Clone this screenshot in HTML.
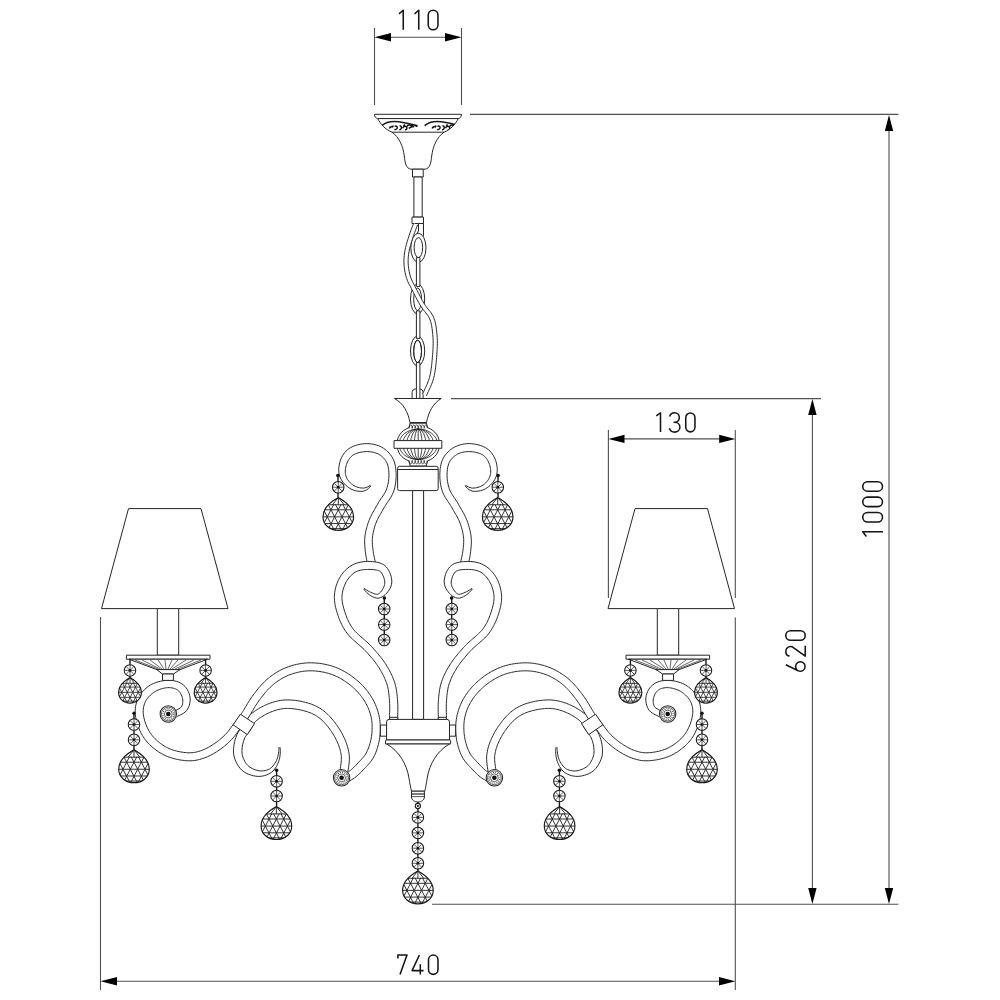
<!DOCTYPE html>
<html><head><meta charset="utf-8"><style>
html,body{margin:0;padding:0;background:#fff;width:1000px;height:1000px;overflow:hidden}
svg{display:block}
.l{fill:none;stroke:#262626;stroke-width:1}
.ch{fill:none;stroke:#1a1a1a;stroke-width:1.4}
.d{fill:none;stroke:#505050;stroke-width:1.1}
.ah{fill:#000;stroke:none}
.w{fill:#fff;stroke:#262626;stroke-width:1}
.dg path{fill:none;stroke:#151515;stroke-width:1.55;stroke-linecap:butt;stroke-linejoin:round}
</style></head><body>
<svg width="1000" height="1000" viewBox="0 0 1000 1000">
<defs>
  <clipPath id="cbig"><path d="M0,-19.30C7.65,-15.05 15.30,-9.49 15.30,0C15.30,8.16 8.57,13.60 0,13.60C-8.57,13.60 -15.30,8.16 -15.30,0C-15.30,-9.49 -7.65,-15.05 0,-19.30Z"/></clipPath>
  <g id="big">
    <path fill="#fff" d="M0,-19.30C7.65,-15.05 15.30,-9.49 15.30,0C15.30,8.16 8.57,13.60 0,13.60C-8.57,13.60 -15.30,8.16 -15.30,0C-15.30,-9.49 -7.65,-15.05 0,-19.30Z"/>
    <path clip-path="url(#cbig)" fill="none" stroke="#1e1e1e" stroke-width="0.9" d="M-16.30,-11.93H16.30M-16.30,-6.89H16.30M-16.30,0.15H16.30M-16.30,6.89H16.30M-16.30,11.93H16.30M-46.96,-12.43L-32.85,14.60M-33.82,-12.43L-47.93,14.60M-39.62,-12.43L-25.51,14.60M-26.48,-12.43L-40.59,14.60M-32.27,-12.43L-18.17,14.60M-19.14,-12.43L-33.24,14.60M-24.93,-12.43L-10.82,14.60M-11.79,-12.43L-25.90,14.60M-17.58,-12.43L-3.48,14.60M-4.45,-12.43L-18.55,14.60M-10.24,-12.43L3.87,14.60M2.90,-12.43L-11.21,14.60M-2.90,-12.43L11.21,14.60M10.24,-12.43L-3.87,14.60M4.45,-12.43L18.55,14.60M17.58,-12.43L3.48,14.60M11.79,-12.43L25.90,14.60M24.93,-12.43L10.82,14.60M19.14,-12.43L33.24,14.60M32.27,-12.43L18.17,14.60M26.48,-12.43L40.59,14.60M39.62,-12.43L25.51,14.60M33.82,-12.43L47.93,14.60M46.96,-12.43L32.85,14.60M0,-19.30L-17.63,-11.93M0,-19.30L-11.75,-11.93M0,-19.30L-5.88,-11.93M0,-19.30L0.00,-11.93M0,-19.30L5.88,-11.93M0,-19.30L11.75,-11.93M0,-19.30L17.63,-11.93"/>
    <path fill="none" stroke="#1a1a1a" stroke-width="1.15" d="M0,-19.30C7.65,-15.05 15.30,-9.49 15.30,0C15.30,8.16 8.57,13.60 0,13.60C-8.57,13.60 -15.30,8.16 -15.30,0C-15.30,-9.49 -7.65,-15.05 0,-19.30Z"/>
  </g>
  <clipPath id="cmed"><path d="M0,-14.70C5.70,-11.47 11.40,-7.07 11.40,0C11.40,6.54 6.38,10.90 0,10.90C-6.38,10.90 -11.40,6.54 -11.40,0C-11.40,-7.07 -5.70,-11.47 0,-14.70Z"/></clipPath>
  <g id="med">
    <path fill="#fff" d="M0,-14.70C5.70,-11.47 11.40,-7.07 11.40,0C11.40,6.54 6.38,10.90 0,10.90C-6.38,10.90 -11.40,6.54 -11.40,0C-11.40,-7.07 -5.70,-11.47 0,-14.70Z"/>
    <path clip-path="url(#cmed)" fill="none" stroke="#1e1e1e" stroke-width="0.8" d="M-12.40,-8.89H12.40M-12.40,-5.13H12.40M-12.40,0.11H12.40M-12.40,5.13H12.40M-12.40,8.89H12.40M-35.06,-9.39L-23.95,11.90M-25.14,-9.39L-36.25,11.90M-29.58,-9.39L-18.47,11.90M-19.66,-9.39L-30.77,11.90M-24.11,-9.39L-13.00,11.90M-14.19,-9.39L-25.30,11.90M-18.64,-9.39L-7.53,11.90M-8.72,-9.39L-19.83,11.90M-13.17,-9.39L-2.06,11.90M-3.25,-9.39L-14.36,11.90M-7.70,-9.39L3.41,11.90M2.22,-9.39L-8.89,11.90M-2.22,-9.39L8.89,11.90M7.70,-9.39L-3.41,11.90M3.25,-9.39L14.36,11.90M13.17,-9.39L2.06,11.90M8.72,-9.39L19.83,11.90M18.64,-9.39L7.53,11.90M14.19,-9.39L25.30,11.90M24.11,-9.39L13.00,11.90M19.66,-9.39L30.77,11.90M29.58,-9.39L18.47,11.90M25.14,-9.39L36.25,11.90M35.06,-9.39L23.95,11.90M0,-14.70L-13.13,-8.89M0,-14.70L-8.76,-8.89M0,-14.70L-4.38,-8.89M0,-14.70L0.00,-8.89M0,-14.70L4.38,-8.89M0,-14.70L8.76,-8.89M0,-14.70L13.13,-8.89"/>
    <path fill="none" stroke="#1a1a1a" stroke-width="1.15" d="M0,-14.70C5.70,-11.47 11.40,-7.07 11.40,0C11.40,6.54 6.38,10.90 0,10.90C-6.38,10.90 -11.40,6.54 -11.40,0C-11.40,-7.07 -5.70,-11.47 0,-14.70Z"/>
  </g>

  <g id="bead">
    <circle r="5.75" fill="#fff" stroke="#1a1a1a" stroke-width="1.05"/>
    <path class="l" style="stroke-width:0.75" d="M0,-5.4V5.4M-5.4,0H5.4M-3.8,-3.8L3.8,3.8M3.8,-3.8L-3.8,3.8"/>
    <circle r="1.3" fill="#111"/>
  </g>
  <g id="ros">
    <circle r="8.2" class="w" style="stroke-width:1.05"/>
    <circle r="6.9" class="l" style="stroke-width:0.7"/>
    <circle r="5.4" class="l" style="stroke-width:1.1;stroke-dasharray:0.8 1.3"/>
    <circle r="3.9" class="l" style="stroke-width:0.7"/>
    <circle r="2.3" fill="#111"/>
  </g>
</defs>
<!-- ============ DIMENSIONS ============ -->
<g id="dims">
  <!-- 110 -->
  <path class="d" d="M374.5,28V105M461.5,28V105M390,37.2H446"/>
  <path class="ah" d="M374.5,37.2L391,33L391,41.4Z M461.5,37.2L445,33L445,41.4Z"/>
  <!-- 130 -->
  <path class="d" d="M608.4,430V598M735.3,430V598M735.3,617.5V990M624,438.9H720"/>
  <path class="ah" d="M608.4,438.9L624.5,434.7L624.5,443.1Z M735.3,438.9L719.2,434.7L719.2,443.1Z"/>
  <!-- 740 -->
  <path class="d" d="M100.5,617V990M116,981.2H720"/>
  <path class="ah" d="M100.5,981.2L117,977L117,985.4Z M735.3,981.2L719,977L719,985.4Z"/>
  <!-- 1000 -->
  <path class="d" d="M470,114.4H898.4M432,904.3H898.4M889,130V889"/>
  <path class="ah" d="M889,115L884.8,131L893.2,131Z M889,904L884.8,888L893.2,888Z"/>
  <!-- 620 -->
  <path class="d" d="M451,398.6H821M812.4,414V889"/>
  <path class="ah" d="M812.4,399L808.2,415L816.6,415Z M812.4,904L808.2,888L816.6,888Z"/>

<g class="dg">
  <!-- 110 -->
  <path d="M399,13.9L403.25,10.25V29.75"/>
  <path d="M414.5,13.9L418.75,10.25V29.75"/>
  <path d="M428.25,15.1A4.85,4.85 0 0 1 437.95,15.1V24.9A4.85,4.85 0 0 1 428.25,24.9Z"/>
  <!-- 130 -->
  <path d="M656.25,415.9L660.5,412.75V432"/>
  <path d="M669.6,416.4C670.4,414.1 672.3,412.8 674.6,412.8C677.3,412.8 679.3,414.8 679.3,417.4C679.3,420.1 677.3,422.3 674.7,422.3H673.6M674.7,422.3C677.7,422.3 679.9,424.6 679.9,427.3C679.9,430.1 677.6,432.1 674.6,432.1C672,432.1 670,430.5 669.4,428.1"/>
  <path d="M685.75,417.6A4.6,4.6 0 0 1 694.95,417.6V427.3A4.6,4.6 0 0 1 685.75,427.3Z"/>
  <!-- 740 -->
  <path d="M397.9,958.4V955H407L400,974.4"/>
  <path d="M419.4,955L412.1,970.6H423.6M420.3,964.2V974.4"/>
  <path d="M428.5,959.8A4.75,4.75 0 0 1 438,959.8V969.6A4.75,4.75 0 0 1 428.5,969.6Z"/>
  <!-- 620 rotated -->
  <g transform="translate(785,672) rotate(-90)">
    <path d="M7.3,0.8L1.2,13.2M5.5,10.6A4.75,4.75 0 1 1 5.49,10.6Z"/>
    <path d="M15.9,4.6C16.2,2.3 18.1,0.8 20.6,0.8C23.3,0.8 25.5,2.9 25.5,5.4C25.5,6.7 25,7.7 24.2,8.7L15.9,20.25H26.3"/>
    <path d="M31.75,5.55A4.75,4.75 0 0 1 41.25,5.55V15.45A4.75,4.75 0 0 1 31.75,15.45Z"/>
  </g>
  <!-- 1000 rotated -->
  <g transform="translate(862,537) rotate(-90)">
    <path d="M0.6,4.4L5.3,0.75V21"/>
    <path d="M15,5.5A4.75,4.75 0 0 1 24.5,5.5V15.75A4.75,4.75 0 0 1 15,15.75Z"/>
    <path d="M30.4,5.5A4.75,4.75 0 0 1 39.9,5.5V15.75A4.75,4.75 0 0 1 30.4,15.75Z"/>
    <path d="M45.8,5.5A4.75,4.75 0 0 1 55.3,5.5V15.75A4.75,4.75 0 0 1 45.8,15.75Z"/>
  </g>
</g>
</g>

<g id="top">
<path class="w" d="M374.5,114.3H461.5C461.5,116.6 460.2,118.4 458.3,118.6H377.7C375.8,118.4 374.5,116.6 374.5,114.3Z"/>
<path class="w" d="M377.7,118.6C380.2,123.5 385,129.5 392,132.2C399,137 403,146 404.3,156C405,163 406,168.6 411,169.2H425C430,168.6 431,163 431.7,156C433,146 437,137 444,132.2C451,129.5 455.8,123.5 458.3,118.6Z"/>
<path class="l" d="M392,132.2H444"/>
<clipPath id="bandclip"><path d="M377.7,118.6C380.2,123.5 385,129.5 392,132.2H444C451,129.5 455.8,123.5 458.3,118.6Z"/></clipPath>
<g clip-path="url(#bandclip)"><g id="orn"><path fill="none" stroke="#1a1a1a" stroke-width="1.5" d="M381.8,125.6C385.5,122.3 392,120.8 399,121.8C405,122.6 411,124.3 417.6,125.8"/><path fill="none" stroke="#111" stroke-width="1.45" d="M389.3,128.6C390,126.6 392,126.2 393.2,127.3M391.6,126.7L393.6,125.8M394.6,126.4C396.3,125.6 397.6,126.6 397.2,128.1C396.8,129.4 395.2,129.9 394.4,129.3M399.2,129.9C400.8,129.6 401.8,128.3 401.3,126.8C401,125.9 400.2,125.7 399.6,126.2M402.6,128.2C403.6,125.9 406,125.6 406.8,127.4C407.3,128.9 406.2,130 404.9,129.6M406.9,126.3C408.6,124.4 410.8,124.8 411.6,126.6M408.7,128.3C410.4,127 412.4,126.7 414.3,126.6M411.6,124.3L413.3,126.4M414.6,125.2L417.2,126.6M403.4,125.8L404.8,124.5"/></g><use href="#orn" x="42.8"/></g>
<path class="w" d="M412.5,169.2H423.2V177H412.5Z"/>
<path class="w" d="M413.9,177H422.2V217.1H413.9Z"/>
<path class="w" d="M412,217.1H423.5V223.5H412Z"/>
<path class="w" d="M418.5,223.5H423.5V235.4C423.5,237.5 422,238.6 420,238.6H416.5C415,238.6 414.8,237 415.8,235.6L418.5,231Z"/>
<g class="w"><ellipse cx="418.4" cy="247.8" rx="7.6" ry="14.5"/><ellipse cx="417.6" cy="299" rx="7.1" ry="14.9"/><ellipse cx="417.6" cy="351" rx="7.1" ry="14.9"/></g>
<g class="l"><ellipse cx="418.4" cy="247.6" rx="4.25" ry="10"/><ellipse cx="417.6" cy="299.2" rx="3.9" ry="11.2"/><ellipse cx="417.6" cy="351.3" rx="3.9" ry="11.2"/></g>
<path class="w" d="M416.4,257.6H419.9V286.4H416.4Z"/>
<path class="w" d="M416.4,310.9H419.9V338.4H416.4Z"/>
<path class="w" d="M412.1,398.4V392.5C412.1,390.5 413.6,389 415.6,389H419.6C421.6,389 423.1,390.5 423.1,392.5V398.4"/>
<path class="w" d="M416.4,362.6H419.9V398.4H416.4Z"/>
<ellipse class="l" cx="417.6" cy="351.3" rx="3.9" ry="11.2"/>
<path fill="#fff" stroke="none" d="M413.63,223.27L413.07,224.79L412.50,226.30L411.92,227.81L411.34,229.33L410.77,230.87L410.20,232.43L409.64,234.02L409.10,235.65L408.65,237.07L408.18,238.51L407.71,239.99L407.24,241.49L406.78,243.01L406.34,244.53L405.93,246.07L405.55,247.60L405.22,249.13L404.93,250.64L404.66,252.33L404.42,254.01L404.22,255.68L404.08,257.35L403.98,259.03L403.93,260.71L403.94,262.41L404.00,264.12L404.12,265.73L404.29,267.37L404.50,269.02L404.76,270.67L405.06,272.32L405.41,273.95L405.80,275.55L406.23,277.13L406.71,278.66L407.26,280.21L407.87,281.68L408.52,283.09L409.21,284.45L409.92,285.80L410.65,287.15L411.38,288.52L412.13,289.96L412.77,291.22L413.44,292.53L414.13,293.90L414.85,295.29L415.58,296.71L416.33,298.15L417.09,299.59L417.86,301.02L418.64,302.44L419.43,303.83L420.22,305.19L421.02,306.52L421.95,307.93L422.92,309.27L423.91,310.53L424.90,311.74L425.85,312.92L426.77,314.07L427.62,315.22L428.39,316.38L429.08,317.57L429.67,318.83L430.15,320.05L430.58,321.35L430.96,322.70L431.30,324.09L431.60,325.53L431.86,327.00L432.09,328.49L432.30,330.01L432.47,331.55L432.63,333.09L432.78,334.63L432.91,336.17L433.01,337.63L433.09,339.09L433.13,340.56L433.16,342.05L433.15,343.55L433.13,345.05L433.08,346.57L433.02,348.09L432.94,349.63L432.85,351.17L432.74,352.72L432.63,354.27L432.51,355.83L432.38,357.38L432.25,358.94L432.11,360.53L431.96,362.12L431.80,363.71L431.63,365.30L431.44,366.89L431.23,368.47L431.00,370.04L430.75,371.58L430.47,373.10L430.17,374.59L429.84,376.04L429.48,377.44L429.05,378.89L428.58,380.31L428.07,381.70L427.52,383.08L426.94,384.45L426.33,385.82L425.71,387.19L425.07,388.56L424.44,389.94L423.80,391.34L423.17,392.76L422.57,394.18L426.43,395.82L427.02,394.43L427.63,393.06L428.25,391.69L428.89,390.32L429.53,388.94L430.16,387.54L430.79,386.12L431.40,384.68L431.99,383.20L432.55,381.69L433.06,380.14L433.52,378.56L433.92,377.03L434.27,375.47L434.59,373.90L434.89,372.30L435.15,370.68L435.39,369.06L435.61,367.42L435.80,365.78L435.98,364.15L436.15,362.52L436.30,360.90L436.44,359.30L436.57,357.72L436.69,356.17L436.82,354.59L436.93,353.01L437.04,351.44L437.13,349.86L437.22,348.29L437.28,346.72L437.33,345.15L437.35,343.58L437.36,342.02L437.33,340.47L437.28,338.91L437.20,337.37L437.09,335.83L436.96,334.26L436.81,332.68L436.65,331.09L436.46,329.49L436.25,327.90L436.01,326.31L435.72,324.73L435.40,323.17L435.02,321.63L434.59,320.11L434.10,318.63L433.53,317.17L432.80,315.63L431.96,314.17L431.05,312.81L430.10,311.52L429.13,310.29L428.15,309.09L427.20,307.92L426.27,306.74L425.40,305.54L424.58,304.28L423.83,303.05L423.07,301.74L422.31,300.39L421.55,299.01L420.79,297.61L420.05,296.19L419.31,294.78L418.58,293.37L417.87,291.99L417.18,290.63L416.52,289.32L415.87,288.04L415.10,286.56L414.34,285.16L413.62,283.82L412.94,282.53L412.30,281.26L411.71,279.99L411.18,278.70L410.69,277.34L410.27,275.95L409.87,274.50L409.51,273.01L409.18,271.50L408.90,269.96L408.66,268.42L408.46,266.88L408.30,265.37L408.20,263.88L408.13,262.31L408.13,260.76L408.17,259.21L408.26,257.67L408.40,256.11L408.59,254.55L408.81,252.96L409.07,251.36L409.33,249.97L409.64,248.56L410.00,247.12L410.39,245.66L410.81,244.19L411.26,242.72L411.71,241.25L412.18,239.80L412.64,238.36L413.10,236.95L413.62,235.38L414.16,233.84L414.71,232.32L415.27,230.81L415.85,229.30L416.42,227.79L417.00,226.27L417.57,224.73Z"/><path fill="none" stroke="#262626" stroke-width="1.0" stroke-linejoin="round" d="M413.63,223.27L413.07,224.79L412.50,226.30L411.92,227.81L411.34,229.33L410.77,230.87L410.20,232.43L409.64,234.02L409.10,235.65L408.65,237.07L408.18,238.51L407.71,239.99L407.24,241.49L406.78,243.01L406.34,244.53L405.93,246.07L405.55,247.60L405.22,249.13L404.93,250.64L404.66,252.33L404.42,254.01L404.22,255.68L404.08,257.35L403.98,259.03L403.93,260.71L403.94,262.41L404.00,264.12L404.12,265.73L404.29,267.37L404.50,269.02L404.76,270.67L405.06,272.32L405.41,273.95L405.80,275.55L406.23,277.13L406.71,278.66L407.26,280.21L407.87,281.68L408.52,283.09L409.21,284.45L409.92,285.80L410.65,287.15L411.38,288.52L412.13,289.96L412.77,291.22L413.44,292.53L414.13,293.90L414.85,295.29L415.58,296.71L416.33,298.15L417.09,299.59L417.86,301.02L418.64,302.44L419.43,303.83L420.22,305.19L421.02,306.52L421.95,307.93L422.92,309.27L423.91,310.53L424.90,311.74L425.85,312.92L426.77,314.07L427.62,315.22L428.39,316.38L429.08,317.57L429.67,318.83L430.15,320.05L430.58,321.35L430.96,322.70L431.30,324.09L431.60,325.53L431.86,327.00L432.09,328.49L432.30,330.01L432.47,331.55L432.63,333.09L432.78,334.63L432.91,336.17L433.01,337.63L433.09,339.09L433.13,340.56L433.16,342.05L433.15,343.55L433.13,345.05L433.08,346.57L433.02,348.09L432.94,349.63L432.85,351.17L432.74,352.72L432.63,354.27L432.51,355.83L432.38,357.38L432.25,358.94L432.11,360.53L431.96,362.12L431.80,363.71L431.63,365.30L431.44,366.89L431.23,368.47L431.00,370.04L430.75,371.58L430.47,373.10L430.17,374.59L429.84,376.04L429.48,377.44L429.05,378.89L428.58,380.31L428.07,381.70L427.52,383.08L426.94,384.45L426.33,385.82L425.71,387.19L425.07,388.56L424.44,389.94L423.80,391.34L423.17,392.76L422.57,394.18M417.57,224.73L417.00,226.27L416.42,227.79L415.85,229.30L415.27,230.81L414.71,232.32L414.16,233.84L413.62,235.38L413.10,236.95L412.64,238.36L412.18,239.80L411.71,241.25L411.26,242.72L410.81,244.19L410.39,245.66L410.00,247.12L409.64,248.56L409.33,249.97L409.07,251.36L408.81,252.96L408.59,254.55L408.40,256.11L408.26,257.67L408.17,259.21L408.13,260.76L408.13,262.31L408.20,263.88L408.30,265.37L408.46,266.88L408.66,268.42L408.90,269.96L409.18,271.50L409.51,273.01L409.87,274.50L410.27,275.95L410.69,277.34L411.18,278.70L411.71,279.99L412.30,281.26L412.94,282.53L413.62,283.82L414.34,285.16L415.10,286.56L415.87,288.04L416.52,289.32L417.18,290.63L417.87,291.99L418.58,293.37L419.31,294.78L420.05,296.19L420.79,297.61L421.55,299.01L422.31,300.39L423.07,301.74L423.83,303.05L424.58,304.28L425.40,305.54L426.27,306.74L427.20,307.92L428.15,309.09L429.13,310.29L430.10,311.52L431.05,312.81L431.96,314.17L432.80,315.63L433.53,317.17L434.10,318.63L434.59,320.11L435.02,321.63L435.40,323.17L435.72,324.73L436.01,326.31L436.25,327.90L436.46,329.49L436.65,331.09L436.81,332.68L436.96,334.26L437.09,335.83L437.20,337.37L437.28,338.91L437.33,340.47L437.36,342.02L437.35,343.58L437.33,345.15L437.28,346.72L437.22,348.29L437.13,349.86L437.04,351.44L436.93,353.01L436.82,354.59L436.69,356.17L436.57,357.72L436.44,359.30L436.30,360.90L436.15,362.52L435.98,364.15L435.80,365.78L435.61,367.42L435.39,369.06L435.15,370.68L434.89,372.30L434.59,373.90L434.27,375.47L433.92,377.03L433.52,378.56L433.06,380.14L432.55,381.69L431.99,383.20L431.40,384.68L430.79,386.12L430.16,387.54L429.53,388.94L428.89,390.32L428.25,391.69L427.63,393.06L427.02,394.43L426.43,395.82"/>
</g>
<g id="half">
<path class="w" d="M128.5,508.6H201L228,608.6H101.5Z"/>
<path class="w" d="M157.3,608.6H178.7V655.2H157.3Z"/>
<path fill="#fff" stroke="none" d="M370.58,485.22L369.00,486.11L367.46,486.97L365.98,487.57L364.67,487.90L363.38,488.08L361.95,488.05L360.80,487.90L359.44,487.66L358.00,487.30L356.56,486.85L355.19,486.31L353.97,485.68L352.77,484.90L351.56,483.97L350.39,482.92L349.31,481.80L348.36,480.64L347.56,479.46L346.92,478.32L346.38,477.13L345.94,475.91L345.61,474.68L345.39,473.43L345.28,472.17L345.29,471.04L345.37,469.78L345.54,468.44L345.80,467.06L346.13,465.69L346.53,464.35L346.98,463.10L347.49,461.97L348.12,460.74L348.83,459.55L349.60,458.42L350.43,457.38L351.33,456.43L352.28,455.59L353.32,454.86L354.22,454.35L355.32,453.84L356.54,453.37L357.87,452.94L359.27,452.56L360.71,452.25L362.17,451.99L363.61,451.79L364.99,451.66L366.30,451.60L367.67,451.59L369.06,451.66L370.47,451.79L371.88,451.98L373.26,452.25L374.61,452.58L375.89,452.98L377.10,453.44L378.21,453.95L379.37,454.60L380.52,455.36L381.63,456.20L382.70,457.13L383.70,458.12L384.62,459.17L385.44,460.24L386.13,461.32L386.74,462.46L387.26,463.69L387.71,465.01L388.08,466.43L388.38,467.92L388.62,469.47L388.79,471.07L388.91,472.70L388.95,474.07L388.95,475.49L388.90,476.96L388.80,478.46L388.65,479.98L388.45,481.51L388.20,483.02L387.89,484.52L387.54,485.99L387.15,487.42L386.71,488.78L386.25,489.97L385.70,491.15L385.08,492.35L384.38,493.57L383.61,494.81L382.80,496.07L381.94,497.35L381.06,498.65L380.17,499.99L379.28,501.35L378.40,502.76L377.59,504.16L376.84,505.50L376.09,506.80L375.33,508.12L374.57,509.44L373.80,510.79L373.03,512.14L372.28,513.52L371.55,514.91L370.84,516.33L370.16,517.76L369.53,519.22L368.94,520.69L368.33,522.36L367.76,524.03L367.24,525.72L366.75,527.41L366.30,529.12L365.90,530.83L365.55,532.55L365.25,534.26L365.01,535.96L364.81,537.68L364.69,539.48L364.64,541.28L364.66,543.06L364.74,544.81L364.86,546.52L365.01,548.19L365.18,549.81L365.36,551.37L365.53,552.91L365.75,554.60L366.02,556.25L366.31,557.83L366.61,559.36L366.91,560.84L367.20,562.30L367.48,563.78L375.32,562.22L375.01,560.71L374.68,559.20L374.35,557.73L374.04,556.29L373.75,554.86L373.49,553.41L373.27,551.89L373.08,550.44L372.88,548.92L372.70,547.39L372.54,545.86L372.41,544.32L372.32,542.79L372.28,541.28L372.30,539.80L372.39,538.32L372.53,536.88L372.72,535.40L372.96,533.90L373.25,532.39L373.58,530.87L373.96,529.34L374.38,527.82L374.84,526.30L375.33,524.79L375.86,523.31L376.35,522.06L376.89,520.81L377.48,519.55L378.12,518.29L378.79,517.01L379.49,515.73L380.22,514.44L380.97,513.13L381.73,511.82L382.50,510.49L383.27,509.15L384.01,507.84L384.75,506.57L385.52,505.33L386.34,504.07L387.20,502.79L388.09,501.49L388.98,500.15L389.88,498.78L390.75,497.37L391.58,495.91L392.37,494.40L393.08,492.83L393.69,491.22L394.23,489.52L394.69,487.80L395.08,486.05L395.41,484.29L395.68,482.53L395.89,480.77L396.04,479.02L396.13,477.29L396.17,475.59L396.16,473.92L396.09,472.30L395.96,470.43L395.76,468.55L395.49,466.68L395.12,464.82L394.65,462.97L394.06,461.16L393.34,459.39L392.47,457.68L391.48,456.09L390.37,454.57L389.15,453.13L387.84,451.76L386.43,450.47L384.95,449.29L383.40,448.21L381.79,447.25L380.20,446.45L378.55,445.76L376.84,445.16L375.09,444.66L373.31,444.25L371.51,443.94L369.70,443.72L367.89,443.61L366.10,443.60L364.38,443.69L362.63,443.88L360.85,444.15L359.06,444.52L357.28,444.96L355.53,445.49L353.82,446.11L352.17,446.82L350.59,447.62L349.08,448.54L347.48,449.76L346.02,451.13L344.71,452.60L343.56,454.15L342.55,455.74L341.67,457.37L340.91,459.03L340.30,460.65L339.78,462.35L339.36,464.10L339.05,465.87L338.84,467.65L338.74,469.41L338.76,471.14L338.92,472.83L339.27,474.65L339.81,476.41L340.49,478.08L341.30,479.65L342.22,481.13L343.24,482.54L344.44,483.95L345.79,485.29L347.25,486.54L348.79,487.68L350.39,488.68L352.03,489.52L353.69,490.17L355.42,490.68L357.17,491.05L358.89,491.28L360.52,491.39L362.05,491.35L363.88,491.04L365.52,490.44L367.02,489.63L368.49,488.46L369.77,487.10L371.02,485.78Z"/><path fill="none" stroke="#262626" stroke-width="1.0" stroke-linejoin="round" d="M370.58,485.22L369.00,486.11L367.46,486.97L365.98,487.57L364.67,487.90L363.38,488.08L361.95,488.05L360.80,487.90L359.44,487.66L358.00,487.30L356.56,486.85L355.19,486.31L353.97,485.68L352.77,484.90L351.56,483.97L350.39,482.92L349.31,481.80L348.36,480.64L347.56,479.46L346.92,478.32L346.38,477.13L345.94,475.91L345.61,474.68L345.39,473.43L345.28,472.17L345.29,471.04L345.37,469.78L345.54,468.44L345.80,467.06L346.13,465.69L346.53,464.35L346.98,463.10L347.49,461.97L348.12,460.74L348.83,459.55L349.60,458.42L350.43,457.38L351.33,456.43L352.28,455.59L353.32,454.86L354.22,454.35L355.32,453.84L356.54,453.37L357.87,452.94L359.27,452.56L360.71,452.25L362.17,451.99L363.61,451.79L364.99,451.66L366.30,451.60L367.67,451.59L369.06,451.66L370.47,451.79L371.88,451.98L373.26,452.25L374.61,452.58L375.89,452.98L377.10,453.44L378.21,453.95L379.37,454.60L380.52,455.36L381.63,456.20L382.70,457.13L383.70,458.12L384.62,459.17L385.44,460.24L386.13,461.32L386.74,462.46L387.26,463.69L387.71,465.01L388.08,466.43L388.38,467.92L388.62,469.47L388.79,471.07L388.91,472.70L388.95,474.07L388.95,475.49L388.90,476.96L388.80,478.46L388.65,479.98L388.45,481.51L388.20,483.02L387.89,484.52L387.54,485.99L387.15,487.42L386.71,488.78L386.25,489.97L385.70,491.15L385.08,492.35L384.38,493.57L383.61,494.81L382.80,496.07L381.94,497.35L381.06,498.65L380.17,499.99L379.28,501.35L378.40,502.76L377.59,504.16L376.84,505.50L376.09,506.80L375.33,508.12L374.57,509.44L373.80,510.79L373.03,512.14L372.28,513.52L371.55,514.91L370.84,516.33L370.16,517.76L369.53,519.22L368.94,520.69L368.33,522.36L367.76,524.03L367.24,525.72L366.75,527.41L366.30,529.12L365.90,530.83L365.55,532.55L365.25,534.26L365.01,535.96L364.81,537.68L364.69,539.48L364.64,541.28L364.66,543.06L364.74,544.81L364.86,546.52L365.01,548.19L365.18,549.81L365.36,551.37L365.53,552.91L365.75,554.60L366.02,556.25L366.31,557.83L366.61,559.36L366.91,560.84L367.20,562.30L367.48,563.78M371.02,485.78L369.77,487.10L368.49,488.46L367.02,489.63L365.52,490.44L363.88,491.04L362.05,491.35L360.52,491.39L358.89,491.28L357.17,491.05L355.42,490.68L353.69,490.17L352.03,489.52L350.39,488.68L348.79,487.68L347.25,486.54L345.79,485.29L344.44,483.95L343.24,482.54L342.22,481.13L341.30,479.65L340.49,478.08L339.81,476.41L339.27,474.65L338.92,472.83L338.76,471.14L338.74,469.41L338.84,467.65L339.05,465.87L339.36,464.10L339.78,462.35L340.30,460.65L340.91,459.03L341.67,457.37L342.55,455.74L343.56,454.15L344.71,452.60L346.02,451.13L347.48,449.76L349.08,448.54L350.59,447.62L352.17,446.82L353.82,446.11L355.53,445.49L357.28,444.96L359.06,444.52L360.85,444.15L362.63,443.88L364.38,443.69L366.10,443.60L367.89,443.61L369.70,443.72L371.51,443.94L373.31,444.25L375.09,444.66L376.84,445.16L378.55,445.76L380.20,446.45L381.79,447.25L383.40,448.21L384.95,449.29L386.43,450.47L387.84,451.76L389.15,453.13L390.37,454.57L391.48,456.09L392.47,457.68L393.34,459.39L394.06,461.16L394.65,462.97L395.12,464.82L395.49,466.68L395.76,468.55L395.96,470.43L396.09,472.30L396.16,473.92L396.17,475.59L396.13,477.29L396.04,479.02L395.89,480.77L395.68,482.53L395.41,484.29L395.08,486.05L394.69,487.80L394.23,489.52L393.69,491.22L393.08,492.83L392.37,494.40L391.58,495.91L390.75,497.37L389.88,498.78L388.98,500.15L388.09,501.49L387.20,502.79L386.34,504.07L385.52,505.33L384.75,506.57L384.01,507.84L383.27,509.15L382.50,510.49L381.73,511.82L380.97,513.13L380.22,514.44L379.49,515.73L378.79,517.01L378.12,518.29L377.48,519.55L376.89,520.81L376.35,522.06L375.86,523.31L375.33,524.79L374.84,526.30L374.38,527.82L373.96,529.34L373.58,530.87L373.25,532.39L372.96,533.90L372.72,535.40L372.53,536.88L372.39,538.32L372.30,539.80L372.28,541.28L372.32,542.79L372.41,544.32L372.54,545.86L372.70,547.39L372.88,548.92L373.08,550.44L373.27,551.89L373.49,553.41L373.75,554.86L374.04,556.29L374.35,557.73L374.68,559.20L375.01,560.71L375.32,562.22"/>
<path class="ch" d="M338,475.5V497"/>
<circle cx="337.9" cy="475.5" r="1.8" fill="#111"/>
<use href="#bead" x="338.2" y="487.2"/>
<use href="#big" x="338.3" y="516.7"/>
<path fill="#fff" stroke="none" d="M363.48,588.87L364.57,590.05L365.64,591.27L366.74,592.49L367.96,593.67L369.30,594.71L370.82,595.69L372.48,596.64L374.28,597.47L376.22,598.05L378.27,598.18L380.26,597.75L382.09,596.92L383.78,595.83L385.31,594.56L386.66,593.20L387.85,591.78L388.99,590.18L390.03,588.39L390.90,586.41L391.53,584.26L391.80,582.04L391.74,580.14L391.48,578.25L391.05,576.31L390.45,574.35L389.69,572.41L388.77,570.53L387.67,568.73L386.38,567.05L384.86,565.59L383.27,564.48L381.59,563.63L379.84,562.97L378.05,562.47L376.23,562.09L374.39,561.81L372.57,561.63L370.78,561.51L369.04,561.46L367.38,561.46L365.80,561.50L363.91,561.63L362.00,561.86L360.09,562.21L358.20,562.66L356.34,563.23L354.51,563.93L352.74,564.75L351.03,565.69L349.48,566.71L348.01,567.82L346.59,569.03L345.25,570.33L343.96,571.70L342.75,573.14L341.62,574.64L340.57,576.18L339.62,577.76L338.83,579.22L338.11,580.73L337.44,582.29L336.83,583.90L336.28,585.54L335.79,587.22L335.37,588.91L335.02,590.63L334.74,592.35L334.53,594.08L334.41,595.80L334.37,597.47L334.41,599.14L334.54,600.81L334.73,602.47L334.98,604.13L335.29,605.77L335.64,607.40L336.04,609.01L336.46,610.60L336.92,612.16L337.40,613.70L337.90,615.21L338.43,616.73L338.99,618.26L339.59,619.78L340.22,621.30L340.90,622.81L341.62,624.32L342.38,625.82L343.20,627.31L344.07,628.80L345.00,630.27L345.98,631.74L347.03,633.20L348.00,634.45L349.04,635.66L350.13,636.83L351.25,637.97L352.42,639.09L353.61,640.19L354.81,641.26L356.03,642.32L357.24,643.37L358.45,644.40L359.65,645.43L360.82,646.45L361.97,647.47L363.07,648.48L364.12,649.48L365.12,650.49L366.08,651.51L367.10,652.64L368.13,653.80L369.15,654.96L370.16,656.13L371.15,657.30L372.12,658.47L373.08,659.64L374.01,660.81L374.92,661.98L375.80,663.16L376.66,664.33L377.48,665.50L378.28,666.67L379.04,667.83L379.77,669.00L380.57,670.34L381.35,671.69L382.10,673.03L382.81,674.37L383.49,675.72L384.13,677.06L384.74,678.40L385.31,679.74L385.84,681.09L386.34,682.43L386.80,683.78L387.21,685.13L387.61,686.57L387.94,688.02L388.24,689.50L388.49,691.00L388.71,692.53L388.90,694.07L389.06,695.64L389.20,697.21L389.33,698.80L389.45,700.40L389.56,701.97L389.65,703.47L389.70,704.96L389.73,706.47L389.73,707.98L389.72,709.51L389.69,711.06L389.65,712.62L389.62,714.19L389.58,715.78L389.56,717.38L389.55,718.98L397.65,719.02L397.66,717.47L397.68,715.93L397.72,714.38L397.76,712.81L397.80,711.23L397.83,709.63L397.84,708.01L397.84,706.38L397.81,704.74L397.74,703.08L397.64,701.43L397.51,699.79L397.38,698.15L397.23,696.49L397.07,694.81L396.87,693.13L396.64,691.43L396.38,689.72L396.06,688.00L395.70,686.29L395.27,684.57L394.79,682.87L394.27,681.30L393.72,679.75L393.13,678.22L392.50,676.71L391.83,675.20L391.12,673.72L390.38,672.24L389.61,670.77L388.81,669.32L387.97,667.87L387.12,666.43L386.23,665.00L385.41,663.71L384.55,662.43L383.66,661.16L382.75,659.90L381.81,658.64L380.85,657.40L379.87,656.16L378.87,654.93L377.86,653.70L376.83,652.48L375.79,651.27L374.74,650.07L373.68,648.88L372.61,647.69L371.52,646.49L370.43,645.34L369.28,644.19L368.10,643.08L366.90,641.98L365.69,640.91L364.47,639.85L363.25,638.80L362.04,637.77L360.85,636.75L359.69,635.73L358.56,634.72L357.47,633.72L356.44,632.73L355.46,631.73L354.56,630.75L353.73,629.77L352.97,628.80L352.08,627.54L351.24,626.26L350.46,624.97L349.71,623.67L349.02,622.36L348.36,621.04L347.74,619.70L347.16,618.35L346.61,616.98L346.08,615.60L345.58,614.20L345.10,612.79L344.65,611.39L344.21,609.96L343.79,608.54L343.40,607.10L343.05,605.68L342.73,604.26L342.47,602.85L342.25,601.46L342.09,600.09L341.99,598.76L341.96,597.46L341.99,596.20L342.11,594.84L342.29,593.46L342.53,592.06L342.84,590.66L343.21,589.27L343.63,587.89L344.11,586.54L344.62,585.23L345.18,583.97L345.77,582.77L346.38,581.64L347.14,580.39L347.97,579.16L348.85,577.96L349.79,576.81L350.78,575.73L351.81,574.72L352.85,573.80L353.92,572.99L354.97,572.31L356.17,571.66L357.44,571.12L358.77,570.66L360.17,570.28L361.62,569.98L363.11,569.75L364.63,569.59L366.20,569.50L367.54,569.45L368.99,569.42L370.50,569.44L372.02,569.49L373.52,569.60L374.98,569.77L376.34,570.00L377.58,570.29L378.65,570.65L379.52,571.03L380.14,571.41L380.86,572.06L381.59,572.97L382.31,574.11L382.98,575.42L383.56,576.83L384.05,578.27L384.42,579.67L384.67,580.95L384.80,581.96L384.80,583.20L384.61,584.49L384.22,585.87L383.68,587.26L383.03,588.60L382.34,589.80L381.51,591.00L380.57,592.13L379.58,593.09L378.60,593.81L377.73,594.22L376.71,594.32L375.37,594.10L373.83,593.59L372.23,592.94L370.70,592.29L369.34,591.66L368.01,590.91L366.66,590.07L365.30,589.18L363.92,588.33Z"/><path fill="none" stroke="#262626" stroke-width="1.0" stroke-linejoin="round" d="M363.48,588.87L364.57,590.05L365.64,591.27L366.74,592.49L367.96,593.67L369.30,594.71L370.82,595.69L372.48,596.64L374.28,597.47L376.22,598.05L378.27,598.18L380.26,597.75L382.09,596.92L383.78,595.83L385.31,594.56L386.66,593.20L387.85,591.78L388.99,590.18L390.03,588.39L390.90,586.41L391.53,584.26L391.80,582.04L391.74,580.14L391.48,578.25L391.05,576.31L390.45,574.35L389.69,572.41L388.77,570.53L387.67,568.73L386.38,567.05L384.86,565.59L383.27,564.48L381.59,563.63L379.84,562.97L378.05,562.47L376.23,562.09L374.39,561.81L372.57,561.63L370.78,561.51L369.04,561.46L367.38,561.46L365.80,561.50L363.91,561.63L362.00,561.86L360.09,562.21L358.20,562.66L356.34,563.23L354.51,563.93L352.74,564.75L351.03,565.69L349.48,566.71L348.01,567.82L346.59,569.03L345.25,570.33L343.96,571.70L342.75,573.14L341.62,574.64L340.57,576.18L339.62,577.76L338.83,579.22L338.11,580.73L337.44,582.29L336.83,583.90L336.28,585.54L335.79,587.22L335.37,588.91L335.02,590.63L334.74,592.35L334.53,594.08L334.41,595.80L334.37,597.47L334.41,599.14L334.54,600.81L334.73,602.47L334.98,604.13L335.29,605.77L335.64,607.40L336.04,609.01L336.46,610.60L336.92,612.16L337.40,613.70L337.90,615.21L338.43,616.73L338.99,618.26L339.59,619.78L340.22,621.30L340.90,622.81L341.62,624.32L342.38,625.82L343.20,627.31L344.07,628.80L345.00,630.27L345.98,631.74L347.03,633.20L348.00,634.45L349.04,635.66L350.13,636.83L351.25,637.97L352.42,639.09L353.61,640.19L354.81,641.26L356.03,642.32L357.24,643.37L358.45,644.40L359.65,645.43L360.82,646.45L361.97,647.47L363.07,648.48L364.12,649.48L365.12,650.49L366.08,651.51L367.10,652.64L368.13,653.80L369.15,654.96L370.16,656.13L371.15,657.30L372.12,658.47L373.08,659.64L374.01,660.81L374.92,661.98L375.80,663.16L376.66,664.33L377.48,665.50L378.28,666.67L379.04,667.83L379.77,669.00L380.57,670.34L381.35,671.69L382.10,673.03L382.81,674.37L383.49,675.72L384.13,677.06L384.74,678.40L385.31,679.74L385.84,681.09L386.34,682.43L386.80,683.78L387.21,685.13L387.61,686.57L387.94,688.02L388.24,689.50L388.49,691.00L388.71,692.53L388.90,694.07L389.06,695.64L389.20,697.21L389.33,698.80L389.45,700.40L389.56,701.97L389.65,703.47L389.70,704.96L389.73,706.47L389.73,707.98L389.72,709.51L389.69,711.06L389.65,712.62L389.62,714.19L389.58,715.78L389.56,717.38L389.55,718.98M363.92,588.33L365.30,589.18L366.66,590.07L368.01,590.91L369.34,591.66L370.70,592.29L372.23,592.94L373.83,593.59L375.37,594.10L376.71,594.32L377.73,594.22L378.60,593.81L379.58,593.09L380.57,592.13L381.51,591.00L382.34,589.80L383.03,588.60L383.68,587.26L384.22,585.87L384.61,584.49L384.80,583.20L384.80,581.96L384.67,580.95L384.42,579.67L384.05,578.27L383.56,576.83L382.98,575.42L382.31,574.11L381.59,572.97L380.86,572.06L380.14,571.41L379.52,571.03L378.65,570.65L377.58,570.29L376.34,570.00L374.98,569.77L373.52,569.60L372.02,569.49L370.50,569.44L368.99,569.42L367.54,569.45L366.20,569.50L364.63,569.59L363.11,569.75L361.62,569.98L360.17,570.28L358.77,570.66L357.44,571.12L356.17,571.66L354.97,572.31L353.92,572.99L352.85,573.80L351.81,574.72L350.78,575.73L349.79,576.81L348.85,577.96L347.97,579.16L347.14,580.39L346.38,581.64L345.77,582.77L345.18,583.97L344.62,585.23L344.11,586.54L343.63,587.89L343.21,589.27L342.84,590.66L342.53,592.06L342.29,593.46L342.11,594.84L341.99,596.20L341.96,597.46L341.99,598.76L342.09,600.09L342.25,601.46L342.47,602.85L342.73,604.26L343.05,605.68L343.40,607.10L343.79,608.54L344.21,609.96L344.65,611.39L345.10,612.79L345.58,614.20L346.08,615.60L346.61,616.98L347.16,618.35L347.74,619.70L348.36,621.04L349.02,622.36L349.71,623.67L350.46,624.97L351.24,626.26L352.08,627.54L352.97,628.80L353.73,629.77L354.56,630.75L355.46,631.73L356.44,632.73L357.47,633.72L358.56,634.72L359.69,635.73L360.85,636.75L362.04,637.77L363.25,638.80L364.47,639.85L365.69,640.91L366.90,641.98L368.10,643.08L369.28,644.19L370.43,645.34L371.52,646.49L372.61,647.69L373.68,648.88L374.74,650.07L375.79,651.27L376.83,652.48L377.86,653.70L378.87,654.93L379.87,656.16L380.85,657.40L381.81,658.64L382.75,659.90L383.66,661.16L384.55,662.43L385.41,663.71L386.23,665.00L387.12,666.43L387.97,667.87L388.81,669.32L389.61,670.77L390.38,672.24L391.12,673.72L391.83,675.20L392.50,676.71L393.13,678.22L393.72,679.75L394.27,681.30L394.79,682.87L395.27,684.57L395.70,686.29L396.06,688.00L396.38,689.72L396.64,691.43L396.87,693.13L397.07,694.81L397.23,696.49L397.38,698.15L397.51,699.79L397.64,701.43L397.74,703.08L397.81,704.74L397.84,706.38L397.84,708.01L397.83,709.63L397.80,711.23L397.76,712.81L397.72,714.38L397.68,715.93L397.66,717.47L397.65,719.02"/>
<path class="ch" d="M384.3,598V640"/>
<circle cx="384.4" cy="598" r="1.8" fill="#111"/>
<use href="#bead" x="384.2" y="609"/>
<use href="#bead" x="384.2" y="624.6"/>
<use href="#bead" x="384.2" y="640"/>
<path fill="#fff" stroke="none" d="M278.90,747.25L278.92,748.29L278.94,749.29L278.85,750.47L278.70,751.64L278.52,753.02L278.27,754.53L277.96,756.11L277.57,757.68L277.08,759.18L276.49,760.54L275.74,761.94L274.89,763.37L273.93,764.76L272.90,766.06L271.80,767.23L270.66,768.22L269.49,768.99L268.23,769.61L266.82,770.13L265.32,770.53L263.76,770.80L262.18,770.94L260.63,770.94L259.14,770.80L257.90,770.57L256.56,770.23L255.16,769.77L253.76,769.22L252.39,768.59L251.07,767.88L249.86,767.13L248.78,766.34L247.89,765.57L247.01,764.65L246.18,763.59L245.38,762.39L244.63,761.09L243.95,759.74L243.36,758.37L242.86,757.03L242.48,755.83L242.18,754.52L242.02,753.24L241.95,751.91L241.97,750.50L242.07,749.01L242.22,747.48L242.41,746.09L242.67,744.68L242.99,743.24L243.37,741.82L243.81,740.42L244.31,739.06L244.84,737.81L245.43,736.68L246.14,735.54L246.96,734.35L247.88,733.11L248.86,731.82L249.87,730.46L250.88,729.00L251.83,727.41L252.62,725.92L253.30,724.62L253.94,723.50L254.61,722.52L255.49,721.52L256.20,720.84L257.12,720.05L258.14,719.23L259.26,718.40L260.46,717.57L261.71,716.74L263.01,715.94L264.35,715.16L265.70,714.42L267.04,713.73L268.37,713.09L269.68,712.50L271.00,711.95L272.33,711.43L273.67,710.95L275.02,710.49L276.37,710.08L277.74,709.71L279.11,709.38L280.49,709.09L281.89,708.85L283.30,708.67L284.72,708.53L286.17,708.45L287.43,708.42L288.76,708.44L290.15,708.50L291.58,708.60L293.04,708.74L294.53,708.92L296.02,709.13L297.53,709.37L299.02,709.65L300.50,709.95L301.96,710.28L303.38,710.63L304.76,711.00L306.09,711.38L307.35,711.78L308.53,712.19L310.04,712.75L311.45,713.33L312.79,713.93L314.07,714.57L315.30,715.24L316.50,715.96L317.69,716.75L318.87,717.60L320.06,718.54L321.28,719.56L322.19,720.40L323.13,721.31L324.08,722.28L325.04,723.32L326.00,724.41L326.96,725.55L327.91,726.73L328.84,727.94L329.76,729.17L330.65,730.42L331.52,731.68L332.35,732.94L333.15,734.20L333.90,735.45L334.61,736.67L335.27,737.87L335.96,739.21L336.63,740.56L337.25,741.91L337.84,743.27L338.40,744.62L338.91,745.98L339.37,747.34L339.80,748.70L340.18,750.06L340.52,751.42L340.80,752.77L341.04,754.13L341.23,755.45L341.34,756.75L341.39,758.06L341.36,759.40L341.29,760.79L341.16,762.21L340.99,763.67L340.79,765.16L340.57,766.67L340.33,768.22L340.10,769.79L339.88,771.39L339.68,773.02L339.52,774.61L347.48,775.39L347.63,773.90L347.81,772.43L348.02,770.93L348.24,769.41L348.48,767.85L348.71,766.27L348.93,764.66L349.12,763.03L349.26,761.37L349.36,759.69L349.38,757.99L349.33,756.26L349.17,754.55L348.94,752.88L348.65,751.25L348.31,749.63L347.91,748.02L347.46,746.42L346.96,744.84L346.42,743.27L345.83,741.71L345.21,740.17L344.54,738.64L343.84,737.12L343.10,735.62L342.33,734.13L341.60,732.77L340.81,731.39L339.98,730.00L339.11,728.61L338.20,727.21L337.26,725.82L336.29,724.44L335.30,723.08L334.28,721.74L333.24,720.43L332.18,719.15L331.11,717.91L330.03,716.71L328.93,715.57L327.83,714.47L326.72,713.44L325.32,712.21L323.91,711.06L322.48,709.98L321.03,708.98L319.55,708.04L318.03,707.17L316.47,706.35L314.85,705.59L313.19,704.88L311.47,704.21L310.05,703.71L308.59,703.24L307.07,702.79L305.51,702.37L303.91,701.97L302.29,701.61L300.64,701.28L298.97,700.97L297.29,700.70L295.61,700.47L293.94,700.28L292.27,700.12L290.62,700.01L289.00,699.94L287.40,699.92L285.83,699.95L284.07,700.05L282.33,700.22L280.61,700.45L278.92,700.74L277.26,701.08L275.62,701.47L274.01,701.91L272.42,702.40L270.86,702.92L269.33,703.48L267.82,704.07L266.32,704.70L264.79,705.38L263.25,706.12L261.70,706.92L260.16,707.76L258.64,708.65L257.15,709.57L255.70,710.52L254.30,711.50L252.95,712.50L251.68,713.52L250.49,714.55L249.31,715.68L247.91,717.28L246.75,718.96L245.85,720.53L245.10,721.96L244.43,723.22L243.72,724.40L242.96,725.51L242.06,726.72L241.08,728.01L240.06,729.39L239.03,730.88L238.04,732.49L237.16,734.19L236.41,735.92L235.77,737.65L235.20,739.42L234.72,741.20L234.32,742.99L234.00,744.78L233.78,746.52L233.61,748.36L233.51,750.22L233.51,752.15L233.65,754.13L233.98,756.17L234.52,758.17L235.15,759.92L235.90,761.65L236.78,763.39L237.78,765.12L238.91,766.80L240.17,768.40L241.58,769.90L243.11,771.23L244.67,772.31L246.32,773.24L248.05,774.05L249.83,774.74L251.65,775.32L253.48,775.78L255.31,776.12L257.10,776.33L258.86,776.40L260.83,776.29L262.81,776.01L264.76,775.56L266.65,774.95L268.46,774.18L270.15,773.27L271.71,772.21L273.11,770.96L274.36,769.53L275.47,767.99L276.45,766.38L277.31,764.73L278.06,763.08L278.71,761.46L279.22,759.86L279.61,758.18L279.91,756.47L280.11,754.79L280.25,753.21L280.32,751.77L280.35,750.53L280.27,749.24L280.08,748.18L279.90,747.15Z"/><path fill="none" stroke="#262626" stroke-width="1.0" stroke-linejoin="round" d="M278.90,747.25L278.92,748.29L278.94,749.29L278.85,750.47L278.70,751.64L278.52,753.02L278.27,754.53L277.96,756.11L277.57,757.68L277.08,759.18L276.49,760.54L275.74,761.94L274.89,763.37L273.93,764.76L272.90,766.06L271.80,767.23L270.66,768.22L269.49,768.99L268.23,769.61L266.82,770.13L265.32,770.53L263.76,770.80L262.18,770.94L260.63,770.94L259.14,770.80L257.90,770.57L256.56,770.23L255.16,769.77L253.76,769.22L252.39,768.59L251.07,767.88L249.86,767.13L248.78,766.34L247.89,765.57L247.01,764.65L246.18,763.59L245.38,762.39L244.63,761.09L243.95,759.74L243.36,758.37L242.86,757.03L242.48,755.83L242.18,754.52L242.02,753.24L241.95,751.91L241.97,750.50L242.07,749.01L242.22,747.48L242.41,746.09L242.67,744.68L242.99,743.24L243.37,741.82L243.81,740.42L244.31,739.06L244.84,737.81L245.43,736.68L246.14,735.54L246.96,734.35L247.88,733.11L248.86,731.82L249.87,730.46L250.88,729.00L251.83,727.41L252.62,725.92L253.30,724.62L253.94,723.50L254.61,722.52L255.49,721.52L256.20,720.84L257.12,720.05L258.14,719.23L259.26,718.40L260.46,717.57L261.71,716.74L263.01,715.94L264.35,715.16L265.70,714.42L267.04,713.73L268.37,713.09L269.68,712.50L271.00,711.95L272.33,711.43L273.67,710.95L275.02,710.49L276.37,710.08L277.74,709.71L279.11,709.38L280.49,709.09L281.89,708.85L283.30,708.67L284.72,708.53L286.17,708.45L287.43,708.42L288.76,708.44L290.15,708.50L291.58,708.60L293.04,708.74L294.53,708.92L296.02,709.13L297.53,709.37L299.02,709.65L300.50,709.95L301.96,710.28L303.38,710.63L304.76,711.00L306.09,711.38L307.35,711.78L308.53,712.19L310.04,712.75L311.45,713.33L312.79,713.93L314.07,714.57L315.30,715.24L316.50,715.96L317.69,716.75L318.87,717.60L320.06,718.54L321.28,719.56L322.19,720.40L323.13,721.31L324.08,722.28L325.04,723.32L326.00,724.41L326.96,725.55L327.91,726.73L328.84,727.94L329.76,729.17L330.65,730.42L331.52,731.68L332.35,732.94L333.15,734.20L333.90,735.45L334.61,736.67L335.27,737.87L335.96,739.21L336.63,740.56L337.25,741.91L337.84,743.27L338.40,744.62L338.91,745.98L339.37,747.34L339.80,748.70L340.18,750.06L340.52,751.42L340.80,752.77L341.04,754.13L341.23,755.45L341.34,756.75L341.39,758.06L341.36,759.40L341.29,760.79L341.16,762.21L340.99,763.67L340.79,765.16L340.57,766.67L340.33,768.22L340.10,769.79L339.88,771.39L339.68,773.02L339.52,774.61M279.90,747.15L280.08,748.18L280.27,749.24L280.35,750.53L280.32,751.77L280.25,753.21L280.11,754.79L279.91,756.47L279.61,758.18L279.22,759.86L278.71,761.46L278.06,763.08L277.31,764.73L276.45,766.38L275.47,767.99L274.36,769.53L273.11,770.96L271.71,772.21L270.15,773.27L268.46,774.18L266.65,774.95L264.76,775.56L262.81,776.01L260.83,776.29L258.86,776.40L257.10,776.33L255.31,776.12L253.48,775.78L251.65,775.32L249.83,774.74L248.05,774.05L246.32,773.24L244.67,772.31L243.11,771.23L241.58,769.90L240.17,768.40L238.91,766.80L237.78,765.12L236.78,763.39L235.90,761.65L235.15,759.92L234.52,758.17L233.98,756.17L233.65,754.13L233.51,752.15L233.51,750.22L233.61,748.36L233.78,746.52L234.00,744.78L234.32,742.99L234.72,741.20L235.20,739.42L235.77,737.65L236.41,735.92L237.16,734.19L238.04,732.49L239.03,730.88L240.06,729.39L241.08,728.01L242.06,726.72L242.96,725.51L243.72,724.40L244.43,723.22L245.10,721.96L245.85,720.53L246.75,718.96L247.91,717.28L249.31,715.68L250.49,714.55L251.68,713.52L252.95,712.50L254.30,711.50L255.70,710.52L257.15,709.57L258.64,708.65L260.16,707.76L261.70,706.92L263.25,706.12L264.79,705.38L266.32,704.70L267.82,704.07L269.33,703.48L270.86,702.92L272.42,702.40L274.01,701.91L275.62,701.47L277.26,701.08L278.92,700.74L280.61,700.45L282.33,700.22L284.07,700.05L285.83,699.95L287.40,699.92L289.00,699.94L290.62,700.01L292.27,700.12L293.94,700.28L295.61,700.47L297.29,700.70L298.97,700.97L300.64,701.28L302.29,701.61L303.91,701.97L305.51,702.37L307.07,702.79L308.59,703.24L310.05,703.71L311.47,704.21L313.19,704.88L314.85,705.59L316.47,706.35L318.03,707.17L319.55,708.04L321.03,708.98L322.48,709.98L323.91,711.06L325.32,712.21L326.72,713.44L327.83,714.47L328.93,715.57L330.03,716.71L331.11,717.91L332.18,719.15L333.24,720.43L334.28,721.74L335.30,723.08L336.29,724.44L337.26,725.82L338.20,727.21L339.11,728.61L339.98,730.00L340.81,731.39L341.60,732.77L342.33,734.13L343.10,735.62L343.84,737.12L344.54,738.64L345.21,740.17L345.83,741.71L346.42,743.27L346.96,744.84L347.46,746.42L347.91,748.02L348.31,749.63L348.65,751.25L348.94,752.88L349.17,754.55L349.33,756.26L349.38,757.99L349.36,759.69L349.26,761.37L349.12,763.03L348.93,764.66L348.71,766.27L348.48,767.85L348.24,769.41L348.02,770.93L347.81,772.43L347.63,773.90L347.48,775.39"/>
<path fill="#fff" stroke="none" d="M345.94,782.61L347.25,781.93L348.55,781.28L349.94,780.60L351.40,779.83L352.93,778.93L354.47,777.90L355.81,776.88L357.10,775.81L358.36,774.69L359.60,773.52L360.82,772.33L362.01,771.12L363.18,769.90L364.30,768.71L365.32,767.62L366.37,766.53L367.45,765.39L368.55,764.19L369.65,762.94L370.73,761.60L371.79,760.17L372.80,758.64L373.73,757.04L374.48,755.57L375.16,754.08L375.81,752.54L376.42,750.95L376.98,749.34L377.50,747.69L377.98,746.02L378.42,744.34L378.81,742.65L379.16,740.95L379.46,739.26L379.71,737.59L379.90,735.99L380.06,734.37L380.18,732.73L380.27,731.08L380.31,729.42L380.31,727.76L380.27,726.09L380.19,724.42L380.07,722.75L379.90,721.09L379.69,719.45L379.43,717.82L379.12,716.20L378.74,714.51L378.31,712.83L377.83,711.16L377.30,709.51L376.73,707.87L376.10,706.24L375.43,704.63L374.71,703.04L373.95,701.47L373.15,699.93L372.30,698.41L371.41,696.91L370.57,695.58L369.69,694.26L368.77,692.95L367.81,691.66L366.82,690.39L365.79,689.14L364.73,687.90L363.64,686.69L362.52,685.50L361.38,684.33L360.21,683.19L359.02,682.07L357.80,680.99L356.57,679.93L355.34,678.93L354.08,677.93L352.79,676.95L351.47,675.99L350.12,675.05L348.75,674.13L347.35,673.23L345.93,672.36L344.48,671.52L343.01,670.71L341.52,669.94L340.02,669.21L338.49,668.51L336.95,667.86L335.40,667.25L333.90,666.71L332.37,666.21L330.82,665.74L329.25,665.30L327.66,664.90L326.06,664.53L324.45,664.20L322.83,663.90L321.21,663.63L319.58,663.40L317.95,663.21L316.33,663.05L314.72,662.93L313.12,662.85L311.53,662.81L309.96,662.80L308.26,662.84L306.56,662.93L304.86,663.07L303.16,663.25L301.48,663.48L299.80,663.75L298.13,664.06L296.48,664.41L294.85,664.80L293.23,665.22L291.63,665.68L290.06,666.18L288.50,666.70L286.97,667.26L285.41,667.88L283.85,668.55L282.32,669.26L280.81,670.01L279.32,670.80L277.86,671.63L276.41,672.49L275.00,673.39L273.60,674.31L272.23,675.27L270.88,676.25L269.56,677.27L268.26,678.31L267.02,679.35L265.81,680.44L264.63,681.56L263.48,682.71L262.35,683.88L261.25,685.08L260.18,686.29L259.12,687.52L258.09,688.75L257.08,690.00L256.09,691.25L255.11,692.50L254.15,693.74L253.20,695.01L252.22,696.34L251.24,697.74L250.28,699.18L249.35,700.63L248.43,702.10L247.54,703.57L246.67,705.02L245.82,706.44L245.01,707.82L244.22,709.14L243.47,710.40L242.76,711.56L242.10,712.63L241.48,713.58L240.49,715.03L239.61,716.29L238.78,717.44L237.96,718.55L237.12,719.67L236.11,720.98L235.10,722.23L234.03,723.56L232.85,725.04L231.90,726.28L230.97,727.57L230.04,728.86L229.10,730.14L228.13,731.39L227.14,732.59L226.08,733.76L225.14,734.72L224.12,735.73L223.05,736.74L221.93,737.75L220.78,738.76L219.60,739.74L218.40,740.71L217.18,741.65L215.96,742.54L214.74,743.40L213.48,744.24L212.19,745.08L210.89,745.89L209.57,746.67L208.25,747.42L206.92,748.13L205.59,748.79L204.27,749.39L202.97,749.94L201.65,750.43L200.25,750.91L198.85,751.35L197.49,751.74L196.13,752.08L194.79,752.35L193.42,752.56L192.03,752.71L190.59,752.79L189.06,752.80L187.82,752.76L186.49,752.67L185.09,752.54L183.66,752.38L182.18,752.17L180.68,751.92L179.17,751.63L177.65,751.30L176.14,750.93L174.64,750.52L173.17,750.08L171.74,749.59L170.36,749.07L169.04,748.51L167.77,747.91L166.59,747.30L165.39,746.63L164.19,745.92L162.99,745.16L161.81,744.36L160.64,743.52L159.49,742.64L158.36,741.74L157.27,740.80L156.21,739.84L155.18,738.85L154.20,737.85L153.26,736.82L152.37,735.79L151.54,734.74L150.77,733.70L150.00,732.55L149.25,731.34L148.53,730.06L147.84,728.72L147.19,727.35L146.57,725.93L145.99,724.50L145.46,723.06L144.98,721.61L144.55,720.19L144.18,718.78L143.86,717.41L143.61,716.09L143.42,714.84L143.29,713.68L143.20,712.15L143.21,710.67L143.30,709.22L143.48,707.80L143.74,706.42L144.09,705.08L144.51,703.78L145.00,702.52L145.57,701.31L146.14,700.27L146.82,699.22L147.59,698.17L148.44,697.14L149.36,696.13L150.33,695.17L151.34,694.26L152.38,693.40L153.44,692.62L154.48,691.92L155.59,691.26L156.79,690.64L158.09,690.05L159.46,689.51L160.87,689.02L162.31,688.59L163.73,688.24L165.12,687.96L166.45,687.76L167.67,687.65L169.10,687.61L170.51,687.69L171.88,687.86L173.20,688.13L174.42,688.47L175.53,688.88L176.44,689.31L177.47,689.97L178.38,690.73L179.22,691.62L179.99,692.59L180.66,693.61L181.30,694.77L181.86,696.07L182.32,697.43L182.64,698.77L182.80,700.08L182.82,701.18L182.76,702.42L182.59,703.66L182.31,704.84L181.92,705.89L181.46,706.75L180.95,707.37L180.15,708.01L179.09,708.68L177.81,709.37L176.40,710.09L174.91,710.87L173.51,711.69L176.49,716.91L177.78,716.20L179.12,715.54L180.59,714.84L182.11,714.07L183.66,713.17L185.17,712.05L186.54,710.65L187.67,709.00L188.57,707.25L189.25,705.45L189.74,703.61L190.06,701.78L190.20,699.92L190.10,697.76L189.73,695.58L189.13,693.46L188.32,691.45L187.34,689.59L186.22,687.94L184.92,686.41L183.43,685.00L181.76,683.74L179.96,682.69L178.29,681.95L176.58,681.38L174.80,680.94L172.97,680.62L171.10,680.41L169.21,680.33L167.33,680.35L165.68,680.47L164.01,680.66L162.28,680.92L160.53,681.27L158.76,681.69L157.00,682.19L155.25,682.78L153.54,683.45L151.89,684.22L150.32,685.08L148.86,686.02L147.45,687.04L146.09,688.15L144.78,689.33L143.53,690.59L142.35,691.90L141.24,693.27L140.21,694.70L139.27,696.17L138.43,697.69L137.65,699.36L136.97,701.08L136.40,702.86L135.93,704.69L135.58,706.55L135.34,708.46L135.21,710.40L135.20,712.36L135.31,714.32L135.48,715.89L135.73,717.46L136.04,719.07L136.42,720.71L136.86,722.36L137.36,724.03L137.91,725.70L138.53,727.37L139.19,729.03L139.91,730.67L140.68,732.28L141.49,733.86L142.36,735.40L143.27,736.88L144.23,738.30L145.19,739.61L146.20,740.88L147.27,742.13L148.39,743.35L149.55,744.53L150.75,745.69L151.98,746.81L153.26,747.89L154.56,748.94L155.88,749.95L157.23,750.92L158.61,751.85L159.99,752.73L161.39,753.56L162.80,754.35L164.23,755.09L165.78,755.82L167.39,756.50L169.04,757.12L170.72,757.69L172.42,758.21L174.13,758.68L175.85,759.10L177.57,759.47L179.28,759.80L180.97,760.08L182.64,760.31L184.27,760.50L185.87,760.65L187.42,760.74L188.94,760.80L190.83,760.79L192.68,760.69L194.47,760.50L196.20,760.22L197.89,759.88L199.54,759.47L201.15,759.02L202.74,758.51L204.35,757.97L205.92,757.38L207.49,756.72L209.05,756.00L210.58,755.24L212.10,754.43L213.59,753.59L215.05,752.72L216.48,751.83L217.88,750.92L219.26,750.00L220.63,749.04L222.00,748.04L223.35,747.00L224.67,745.93L225.98,744.84L227.24,743.73L228.48,742.61L229.66,741.49L230.80,740.38L231.92,739.24L233.20,737.83L234.39,736.37L235.49,734.94L236.51,733.56L237.45,732.26L238.32,731.05L239.15,729.96L240.26,728.57L241.33,727.26L242.39,725.93L243.48,724.53L244.38,723.32L245.25,722.14L246.14,720.91L247.08,719.56L248.12,718.02L248.83,716.94L249.57,715.77L250.32,714.53L251.10,713.24L251.89,711.90L252.71,710.52L253.54,709.12L254.38,707.71L255.24,706.30L256.11,704.91L256.98,703.56L257.85,702.24L258.72,700.99L259.60,699.79L260.51,698.60L261.44,697.40L262.37,696.20L263.32,695.01L264.27,693.84L265.23,692.68L266.20,691.55L267.19,690.44L268.18,689.36L269.19,688.31L270.20,687.30L271.23,686.32L272.28,685.39L273.34,684.49L274.50,683.56L275.68,682.66L276.88,681.78L278.10,680.92L279.34,680.10L280.60,679.31L281.87,678.55L283.16,677.82L284.46,677.13L285.78,676.48L287.11,675.86L288.46,675.28L289.83,674.74L291.17,674.25L292.54,673.78L293.93,673.34L295.35,672.93L296.78,672.56L298.23,672.21L299.70,671.90L301.17,671.63L302.64,671.39L304.13,671.19L305.61,671.03L307.09,670.91L308.57,670.84L310.04,670.80L311.41,670.80L312.80,670.84L314.22,670.92L315.65,671.02L317.09,671.16L318.55,671.34L320.00,671.54L321.46,671.78L322.91,672.05L324.35,672.35L325.78,672.68L327.19,673.04L328.59,673.42L329.96,673.84L331.30,674.28L332.60,674.75L333.94,675.27L335.27,675.83L336.60,676.44L337.92,677.09L339.24,677.77L340.54,678.49L341.83,679.24L343.11,680.02L344.37,680.82L345.61,681.65L346.82,682.50L348.02,683.37L349.19,684.26L350.33,685.16L351.43,686.07L352.54,687.01L353.62,687.98L354.69,688.98L355.73,689.99L356.75,691.04L357.75,692.10L358.72,693.18L359.66,694.28L360.57,695.39L361.44,696.51L362.29,697.64L363.09,698.79L363.86,699.94L364.59,701.09L365.37,702.40L366.11,703.73L366.81,705.07L367.48,706.44L368.11,707.82L368.70,709.22L369.24,710.63L369.74,712.05L370.20,713.48L370.61,714.91L370.97,716.35L371.28,717.80L371.53,719.16L371.73,720.55L371.89,721.96L372.02,723.40L372.10,724.85L372.15,726.31L372.16,727.78L372.13,729.25L372.07,730.71L371.97,732.17L371.84,733.60L371.68,735.02L371.49,736.41L371.25,737.87L370.97,739.34L370.65,740.82L370.29,742.30L369.89,743.77L369.46,745.21L368.99,746.63L368.49,748.02L367.97,749.35L367.42,750.63L366.84,751.85L366.27,752.96L365.58,754.16L364.83,755.28L364.01,756.37L363.13,757.45L362.20,758.52L361.22,759.59L360.20,760.67L359.15,761.77L358.10,762.89L357.00,764.07L355.91,765.22L354.81,766.35L353.72,767.43L352.64,768.47L351.57,769.43L350.52,770.32L349.53,771.10L348.42,771.88L347.29,772.57L346.08,773.24L344.79,773.92L343.42,774.63L342.06,775.39Z"/><path fill="none" stroke="#262626" stroke-width="1.0" stroke-linejoin="round" d="M345.94,782.61L347.25,781.93L348.55,781.28L349.94,780.60L351.40,779.83L352.93,778.93L354.47,777.90L355.81,776.88L357.10,775.81L358.36,774.69L359.60,773.52L360.82,772.33L362.01,771.12L363.18,769.90L364.30,768.71L365.32,767.62L366.37,766.53L367.45,765.39L368.55,764.19L369.65,762.94L370.73,761.60L371.79,760.17L372.80,758.64L373.73,757.04L374.48,755.57L375.16,754.08L375.81,752.54L376.42,750.95L376.98,749.34L377.50,747.69L377.98,746.02L378.42,744.34L378.81,742.65L379.16,740.95L379.46,739.26L379.71,737.59L379.90,735.99L380.06,734.37L380.18,732.73L380.27,731.08L380.31,729.42L380.31,727.76L380.27,726.09L380.19,724.42L380.07,722.75L379.90,721.09L379.69,719.45L379.43,717.82L379.12,716.20L378.74,714.51L378.31,712.83L377.83,711.16L377.30,709.51L376.73,707.87L376.10,706.24L375.43,704.63L374.71,703.04L373.95,701.47L373.15,699.93L372.30,698.41L371.41,696.91L370.57,695.58L369.69,694.26L368.77,692.95L367.81,691.66L366.82,690.39L365.79,689.14L364.73,687.90L363.64,686.69L362.52,685.50L361.38,684.33L360.21,683.19L359.02,682.07L357.80,680.99L356.57,679.93L355.34,678.93L354.08,677.93L352.79,676.95L351.47,675.99L350.12,675.05L348.75,674.13L347.35,673.23L345.93,672.36L344.48,671.52L343.01,670.71L341.52,669.94L340.02,669.21L338.49,668.51L336.95,667.86L335.40,667.25L333.90,666.71L332.37,666.21L330.82,665.74L329.25,665.30L327.66,664.90L326.06,664.53L324.45,664.20L322.83,663.90L321.21,663.63L319.58,663.40L317.95,663.21L316.33,663.05L314.72,662.93L313.12,662.85L311.53,662.81L309.96,662.80L308.26,662.84L306.56,662.93L304.86,663.07L303.16,663.25L301.48,663.48L299.80,663.75L298.13,664.06L296.48,664.41L294.85,664.80L293.23,665.22L291.63,665.68L290.06,666.18L288.50,666.70L286.97,667.26L285.41,667.88L283.85,668.55L282.32,669.26L280.81,670.01L279.32,670.80L277.86,671.63L276.41,672.49L275.00,673.39L273.60,674.31L272.23,675.27L270.88,676.25L269.56,677.27L268.26,678.31L267.02,679.35L265.81,680.44L264.63,681.56L263.48,682.71L262.35,683.88L261.25,685.08L260.18,686.29L259.12,687.52L258.09,688.75L257.08,690.00L256.09,691.25L255.11,692.50L254.15,693.74L253.20,695.01L252.22,696.34L251.24,697.74L250.28,699.18L249.35,700.63L248.43,702.10L247.54,703.57L246.67,705.02L245.82,706.44L245.01,707.82L244.22,709.14L243.47,710.40L242.76,711.56L242.10,712.63L241.48,713.58L240.49,715.03L239.61,716.29L238.78,717.44L237.96,718.55L237.12,719.67L236.11,720.98L235.10,722.23L234.03,723.56L232.85,725.04L231.90,726.28L230.97,727.57L230.04,728.86L229.10,730.14L228.13,731.39L227.14,732.59L226.08,733.76L225.14,734.72L224.12,735.73L223.05,736.74L221.93,737.75L220.78,738.76L219.60,739.74L218.40,740.71L217.18,741.65L215.96,742.54L214.74,743.40L213.48,744.24L212.19,745.08L210.89,745.89L209.57,746.67L208.25,747.42L206.92,748.13L205.59,748.79L204.27,749.39L202.97,749.94L201.65,750.43L200.25,750.91L198.85,751.35L197.49,751.74L196.13,752.08L194.79,752.35L193.42,752.56L192.03,752.71L190.59,752.79L189.06,752.80L187.82,752.76L186.49,752.67L185.09,752.54L183.66,752.38L182.18,752.17L180.68,751.92L179.17,751.63L177.65,751.30L176.14,750.93L174.64,750.52L173.17,750.08L171.74,749.59L170.36,749.07L169.04,748.51L167.77,747.91L166.59,747.30L165.39,746.63L164.19,745.92L162.99,745.16L161.81,744.36L160.64,743.52L159.49,742.64L158.36,741.74L157.27,740.80L156.21,739.84L155.18,738.85L154.20,737.85L153.26,736.82L152.37,735.79L151.54,734.74L150.77,733.70L150.00,732.55L149.25,731.34L148.53,730.06L147.84,728.72L147.19,727.35L146.57,725.93L145.99,724.50L145.46,723.06L144.98,721.61L144.55,720.19L144.18,718.78L143.86,717.41L143.61,716.09L143.42,714.84L143.29,713.68L143.20,712.15L143.21,710.67L143.30,709.22L143.48,707.80L143.74,706.42L144.09,705.08L144.51,703.78L145.00,702.52L145.57,701.31L146.14,700.27L146.82,699.22L147.59,698.17L148.44,697.14L149.36,696.13L150.33,695.17L151.34,694.26L152.38,693.40L153.44,692.62L154.48,691.92L155.59,691.26L156.79,690.64L158.09,690.05L159.46,689.51L160.87,689.02L162.31,688.59L163.73,688.24L165.12,687.96L166.45,687.76L167.67,687.65L169.10,687.61L170.51,687.69L171.88,687.86L173.20,688.13L174.42,688.47L175.53,688.88L176.44,689.31L177.47,689.97L178.38,690.73L179.22,691.62L179.99,692.59L180.66,693.61L181.30,694.77L181.86,696.07L182.32,697.43L182.64,698.77L182.80,700.08L182.82,701.18L182.76,702.42L182.59,703.66L182.31,704.84L181.92,705.89L181.46,706.75L180.95,707.37L180.15,708.01L179.09,708.68L177.81,709.37L176.40,710.09L174.91,710.87L173.51,711.69M342.06,775.39L343.42,774.63L344.79,773.92L346.08,773.24L347.29,772.57L348.42,771.88L349.53,771.10L350.52,770.32L351.57,769.43L352.64,768.47L353.72,767.43L354.81,766.35L355.91,765.22L357.00,764.07L358.10,762.89L359.15,761.77L360.20,760.67L361.22,759.59L362.20,758.52L363.13,757.45L364.01,756.37L364.83,755.28L365.58,754.16L366.27,752.96L366.84,751.85L367.42,750.63L367.97,749.35L368.49,748.02L368.99,746.63L369.46,745.21L369.89,743.77L370.29,742.30L370.65,740.82L370.97,739.34L371.25,737.87L371.49,736.41L371.68,735.02L371.84,733.60L371.97,732.17L372.07,730.71L372.13,729.25L372.16,727.78L372.15,726.31L372.10,724.85L372.02,723.40L371.89,721.96L371.73,720.55L371.53,719.16L371.28,717.80L370.97,716.35L370.61,714.91L370.20,713.48L369.74,712.05L369.24,710.63L368.70,709.22L368.11,707.82L367.48,706.44L366.81,705.07L366.11,703.73L365.37,702.40L364.59,701.09L363.86,699.94L363.09,698.79L362.29,697.64L361.44,696.51L360.57,695.39L359.66,694.28L358.72,693.18L357.75,692.10L356.75,691.04L355.73,689.99L354.69,688.98L353.62,687.98L352.54,687.01L351.43,686.07L350.33,685.16L349.19,684.26L348.02,683.37L346.82,682.50L345.61,681.65L344.37,680.82L343.11,680.02L341.83,679.24L340.54,678.49L339.24,677.77L337.92,677.09L336.60,676.44L335.27,675.83L333.94,675.27L332.60,674.75L331.30,674.28L329.96,673.84L328.59,673.42L327.19,673.04L325.78,672.68L324.35,672.35L322.91,672.05L321.46,671.78L320.00,671.54L318.55,671.34L317.09,671.16L315.65,671.02L314.22,670.92L312.80,670.84L311.41,670.80L310.04,670.80L308.57,670.84L307.09,670.91L305.61,671.03L304.13,671.19L302.64,671.39L301.17,671.63L299.70,671.90L298.23,672.21L296.78,672.56L295.35,672.93L293.93,673.34L292.54,673.78L291.17,674.25L289.83,674.74L288.46,675.28L287.11,675.86L285.78,676.48L284.46,677.13L283.16,677.82L281.87,678.55L280.60,679.31L279.34,680.10L278.10,680.92L276.88,681.78L275.68,682.66L274.50,683.56L273.34,684.49L272.28,685.39L271.23,686.32L270.20,687.30L269.19,688.31L268.18,689.36L267.19,690.44L266.20,691.55L265.23,692.68L264.27,693.84L263.32,695.01L262.37,696.20L261.44,697.40L260.51,698.60L259.60,699.79L258.72,700.99L257.85,702.24L256.98,703.56L256.11,704.91L255.24,706.30L254.38,707.71L253.54,709.12L252.71,710.52L251.89,711.90L251.10,713.24L250.32,714.53L249.57,715.77L248.83,716.94L248.12,718.02L247.08,719.56L246.14,720.91L245.25,722.14L244.38,723.32L243.48,724.53L242.39,725.93L241.33,727.26L240.26,728.57L239.15,729.96L238.32,731.05L237.45,732.26L236.51,733.56L235.49,734.94L234.39,736.37L233.20,737.83L231.92,739.24L230.80,740.38L229.66,741.49L228.48,742.61L227.24,743.73L225.98,744.84L224.67,745.93L223.35,747.00L222.00,748.04L220.63,749.04L219.26,750.00L217.88,750.92L216.48,751.83L215.05,752.72L213.59,753.59L212.10,754.43L210.58,755.24L209.05,756.00L207.49,756.72L205.92,757.38L204.35,757.97L202.74,758.51L201.15,759.02L199.54,759.47L197.89,759.88L196.20,760.22L194.47,760.50L192.68,760.69L190.83,760.79L188.94,760.80L187.42,760.74L185.87,760.65L184.27,760.50L182.64,760.31L180.97,760.08L179.28,759.80L177.57,759.47L175.85,759.10L174.13,758.68L172.42,758.21L170.72,757.69L169.04,757.12L167.39,756.50L165.78,755.82L164.23,755.09L162.80,754.35L161.39,753.56L159.99,752.73L158.61,751.85L157.23,750.92L155.88,749.95L154.56,748.94L153.26,747.89L151.98,746.81L150.75,745.69L149.55,744.53L148.39,743.35L147.27,742.13L146.20,740.88L145.19,739.61L144.23,738.30L143.27,736.88L142.36,735.40L141.49,733.86L140.68,732.28L139.91,730.67L139.19,729.03L138.53,727.37L137.91,725.70L137.36,724.03L136.86,722.36L136.42,720.71L136.04,719.07L135.73,717.46L135.48,715.89L135.31,714.32L135.20,712.36L135.21,710.40L135.34,708.46L135.58,706.55L135.93,704.69L136.40,702.86L136.97,701.08L137.65,699.36L138.43,697.69L139.27,696.17L140.21,694.70L141.24,693.27L142.35,691.90L143.53,690.59L144.78,689.33L146.09,688.15L147.45,687.04L148.86,686.02L150.32,685.08L151.89,684.22L153.54,683.45L155.25,682.78L157.00,682.19L158.76,681.69L160.53,681.27L162.28,680.92L164.01,680.66L165.68,680.47L167.33,680.35L169.21,680.33L171.10,680.41L172.97,680.62L174.80,680.94L176.58,681.38L178.29,681.95L179.96,682.69L181.76,683.74L183.43,685.00L184.92,686.41L186.22,687.94L187.34,689.59L188.32,691.45L189.13,693.46L189.73,695.58L190.10,697.76L190.20,699.92L190.06,701.78L189.74,703.61L189.25,705.45L188.57,707.25L187.67,709.00L186.54,710.65L185.17,712.05L183.66,713.17L182.11,714.07L180.59,714.84L179.12,715.54L177.78,716.20L176.49,716.91"/>
<path class="w" d="M240.4,714.2L254.5,723.6L247.3,734.6L233.1,724.8Z"/>
<use href="#ros" x="341.6" y="777.8"/>
<use href="#ros" x="168.3" y="714"/>
<path class="w" d="M380.4,725H386.5V736.2H380.4Z"/>
<path class="ch" d="M276.6,770V806"/>
<circle cx="276.6" cy="770.3" r="1.8" fill="#111"/>
<use href="#bead" x="276.6" y="781.3"/>
<use href="#bead" x="276.6" y="796"/>
<use href="#big" x="276.4" y="825.9"/>
<path class="w" d="M126.4,655.2H210V659.2H126.4Z"/>
<path class="w" d="M129,659.2H207.5L180,669.6H156.8Z"/>
<path class="l" style="stroke-width:0.7" d="M135,660L158,669M142,660L160,669M150,660L162,669M158,660L164,669M165,660L166,669M172,660L168,669M178,660L170,669M186,660L172,669M194,660L175,669M201,660L178,669"/>
<path class="w" d="M156.8,669.6H180L173.4,674H162.5Z"/>
<path class="w" d="M162.5,674H173.4V680.4H162.5Z"/>
<path class="ch" d="M130,659V678M205.6,659V678M134,713V750"/>
<use href="#bead" x="130" y="670.4"/>
<use href="#med" x="130" y="692.2"/>
<use href="#bead" x="205.6" y="670.4"/>
<use href="#med" x="205.6" y="692.2"/>
<circle cx="134" cy="713.2" r="1.7" fill="#111"/>
<use href="#bead" x="134" y="724.5"/>
<use href="#bead" x="134" y="739.8"/>
<use href="#big" x="134" y="769.1"/>
</g>
<g transform="matrix(-1 0 0 1 836 0)"><use href="#half"/></g>
<g id="body">
<path class="w" d="M394.5,398.5H441.2C433,403.5 428.5,412 426.5,422.5H410C408,412 403.5,403.5 394.5,398.5Z"/>
<path class="w" d="M410.2,422.5H426.3L427.5,427.6C435.5,430.5 439.5,437 439.5,444C439.5,452 435.5,458 427.5,461L426.3,466H410.2L409,461C401,458 397,452 397,444C397,437 401,430.5 409,427.6Z"/>
<path class="l" style="stroke-width:0.85" d="M418.2,429A19.25,15.3 0 0 0 418.2,459.6M418.2,429A15.40,15.3 0 0 0 418.2,459.6M418.2,429A11.55,15.3 0 0 0 418.2,459.6M418.2,429A7.70,15.3 0 0 0 418.2,459.6M418.2,429A3.85,15.3 0 0 0 418.2,459.6M418.2,429V459.6M418.2,429A3.85,15.3 0 0 1 418.2,459.6M418.2,429A7.70,15.3 0 0 1 418.2,459.6M418.2,429A11.55,15.3 0 0 1 418.2,459.6M418.2,429A15.40,15.3 0 0 1 418.2,459.6M418.2,429A19.25,15.3 0 0 1 418.2,459.6"/>
<path class="l" style="stroke-width:0.8" d="M409.20,428.4V426.2Q410.70,423.8 412.20,426.2V428.4M409.20,460.4V462.6Q410.70,465 412.20,462.6V460.4M412.20,428.4V426.2Q413.70,423.8 415.20,426.2V428.4M412.20,460.4V462.6Q413.70,465 415.20,462.6V460.4M415.20,428.4V426.2Q416.70,423.8 418.20,426.2V428.4M415.20,460.4V462.6Q416.70,465 418.20,462.6V460.4M418.20,428.4V426.2Q419.70,423.8 421.20,426.2V428.4M418.20,460.4V462.6Q419.70,465 421.20,462.6V460.4M421.20,428.4V426.2Q422.70,423.8 424.20,426.2V428.4M421.20,460.4V462.6Q422.70,465 424.20,462.6V460.4M424.20,428.4V426.2Q425.70,423.8 427.20,426.2V428.4M424.20,460.4V462.6Q425.70,465 427.20,462.6V460.4M410,423.6H426.4"/>
<path class="w" d="M394,440.6H441.8V448.3H394Z"/>
<path class="w" d="M399.6,466.3H436.2Q438.2,466.3 438.2,468.3V488.6Q438.2,490.6 436.2,490.6H399.6Q397.6,490.6 397.6,488.6V468.3Q397.6,466.3 399.6,466.3Z"/>
<path class="l" d="M397.6,469.5H438.2"/>
<path class="w" d="M412.6,490.6H423.6V719.4H412.6Z"/>
<path class="w" d="M389,719.4H447Q449.5,719.4 449.5,722V740H386.6V722Q386.6,719.4 389,719.4Z"/>
<path class="w" d="M389.6,717.3H397.7V719.4H389.6Z"/>
<path class="w" d="M438.3,717.3H446.4V719.4H438.3Z"/>
<path class="w" d="M386.6,740H449.5Q450.6,740 450.6,741V744H385.5V741Q385.5,740 386.6,740Z"/>
<path class="w" d="M386.8,744C399,751 406.5,764 408.8,777C409.8,783 410.6,788 411.5,791.2H424.8C425.6,788 426.4,783 427.4,777C429.7,764 437,751 449.4,744Z"/>
<path class="w" d="M411.5,791.2H424.4V797C424.4,800 421.5,802 418,802C414.5,802 411.5,800 411.5,797Z"/>
<path class="l" style="stroke-width:0.8" d="M411.5,796.6H424.4"/><path class="l" style="stroke-width:1.2" d="M411.5,794H424.4"/>
<path class="ch" d="M417.9,802V871"/>
<circle cx="417.9" cy="806" r="2.6" fill="#fff" stroke="#1a1a1a" stroke-width="1.1"/><circle cx="417.9" cy="806" r="1.1" fill="#111"/>
<use href="#bead" x="417.9" y="817.4"/>
<use href="#bead" x="417.9" y="832.9"/>
<use href="#bead" x="417.9" y="848.2"/>
<use href="#bead" x="417.9" y="863.3"/>
<use href="#big" x="417.9" y="890.2"/>
</g>
</svg>
</body></html>
